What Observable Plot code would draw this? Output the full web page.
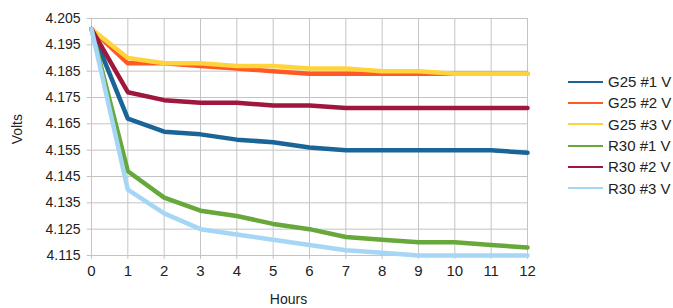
<!DOCTYPE html>
<html><head><meta charset="utf-8">
<script src="https://cdn.jsdelivr.net/npm/d3@7"></script>
<script src="https://cdn.jsdelivr.net/npm/@observablehq/plot@0.6"></script>
<style>
html,body{margin:0;padding:0;background:#fff;overflow:hidden;}
#wrap{position:relative;width:673px;height:308px;font-family:"Liberation Sans",Arial,sans-serif;}
#legend{position:absolute;left:568px;top:71px;font-size:15px;color:#222;}
.row{height:21.3px;display:flex;align-items:center;white-space:nowrap;}
.sw{width:35px;height:2px;margin-right:5px;flex:none;}
</style></head>
<body><div id="wrap"><div id="legend"></div></div>
<script>
const hours = [0,1,2,3,4,5,6,7,8,9,10,11,12];
const seriesNames = ["G25 #1 V","G25 #2 V","G25 #3 V","R30 #1 V","R30 #2 V","R30 #3 V"];
const colors = ["#1a6598","#ff5a26","#ffd43a","#66a83a","#a0173d","#a6d6f5"];
const g25_1 = [4.201,4.167,4.162,4.161,4.159,4.158,4.156,4.155,4.155,4.155,4.155,4.155,4.154];
const g25_2 = [4.201,4.188,4.188,4.187,4.186,4.185,4.184,4.184,4.184,4.184,4.184,4.184,4.184];
const g25_3 = [4.201,4.190,4.188,4.188,4.187,4.187,4.186,4.186,4.185,4.185,4.184,4.184,4.184];
const r30_1 = [4.201,4.147,4.137,4.132,4.130,4.127,4.125,4.122,4.121,4.120,4.120,4.119,4.118];
const r30_2 = [4.201,4.177,4.174,4.173,4.173,4.172,4.172,4.171,4.171,4.171,4.171,4.171,4.171];
const r30_3 = [4.201,4.140,4.131,4.125,4.123,4.121,4.119,4.117,4.116,4.115,4.115,4.115,4.115];
const yTicks = [4.115,4.125,4.135,4.145,4.155,4.165,4.175,4.185,4.195,4.205];

const all = [g25_1,g25_2,g25_3,r30_1,r30_2,r30_3];
const data = [];
all.forEach((arr,i)=>arr.forEach((v,j)=>data.push({hour:hours[j],volts:v,series:seriesNames[i]})));

const chart = Plot.plot({
  width:673, height:308,
  marginLeft:91, marginRight:146, marginTop:18, marginBottom:53,
  style:{fontFamily:"Liberation Sans, Arial, sans-serif", fontSize:"13px", color:"#222", background:"#fff"},
  x:{domain:[0,12], ticks:hours, label:null, tickSize:0, tickPadding:10},
  y:{domain:[4.115,4.205], ticks:yTicks, tickFormat:d3.format(".3f"), label:null, tickSize:0, tickPadding:11},
  color:{domain:seriesNames, range:colors},
  marks:[
    Plot.ruleY(yTicks,{stroke:"#c4c4c4", strokeWidth:1, x1:-0.12, x2:12}),
    Plot.ruleX(hours,{stroke:"#c4c4c4", strokeWidth:1, y1:4.1135, y2:4.205}),
    Plot.axisX({ticks:hours, tickSize:0, tickPadding:10, label:null, fontSize:15}),
    Plot.axisY({ticks:yTicks, tickFormat:d3.format(".3f"), tickSize:0, tickPadding:11, label:null, fontSize:14}),
    Plot.line(data,{x:"hour", y:"volts", z:"series", stroke:"series", strokeWidth:4.5, strokeLinejoin:"round", curve:"linear"}),
    Plot.text(["Hours"],{frameAnchor:"bottom", dx:-21, dy:48, fontSize:14}),
    Plot.text(["Volts"],{frameAnchor:"left", y:()=>4.1572, dx:-74, rotate:-90, fontSize:14})
  ]
});
document.getElementById("wrap").prepend(chart);
const lg = document.getElementById("legend");
seriesNames.forEach((n,i)=>{
  const r=document.createElement("div");r.className="row";
  r.innerHTML=`<span class="sw" style="background:${colors[i]}"></span><span>${n}</span>`;
  lg.appendChild(r);
});
</script></body></html>
